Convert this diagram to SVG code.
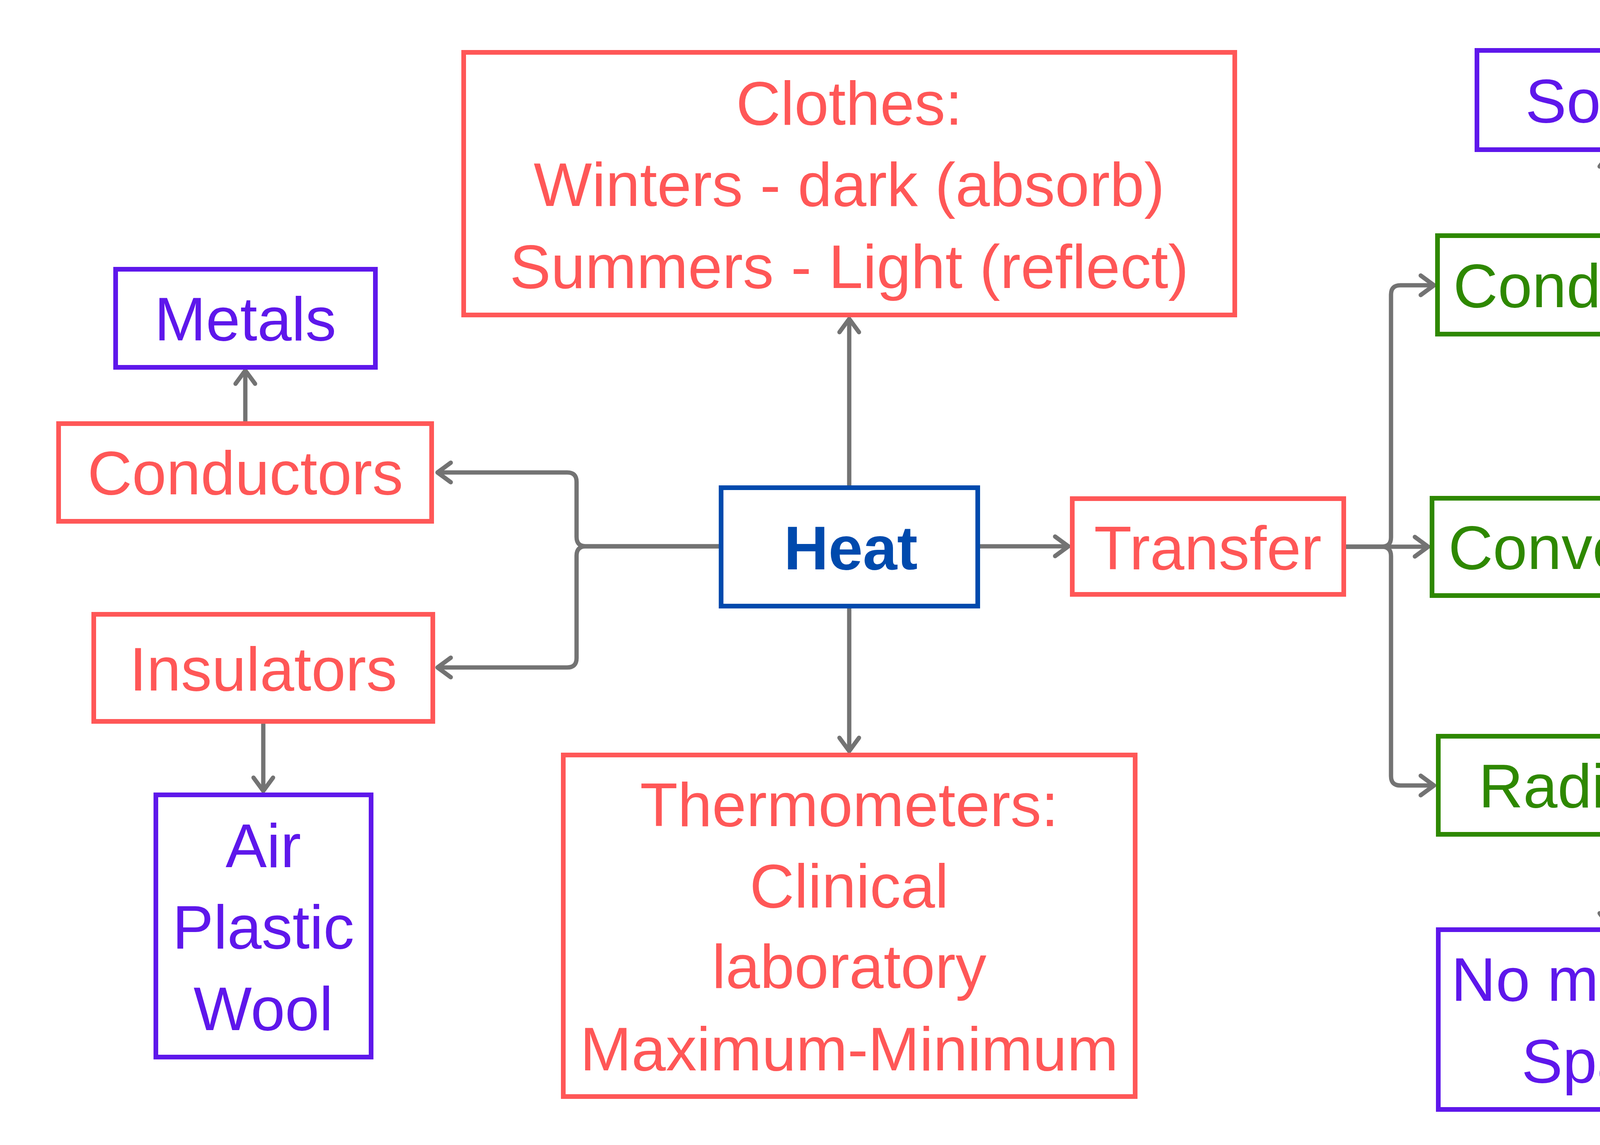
<svg xmlns="http://www.w3.org/2000/svg" width="6009" height="2930" viewBox="0 0 6009 2930">
<style>
.box{fill:#ffffff;stroke-width:12}
.r{stroke:#FF5757}.p{stroke:#5E17EB}.g{stroke:#2E8800}.b{stroke:#004AAD}
.t{font-family:"Liberation Sans",Arial,sans-serif;font-size:158px;text-anchor:middle}
.tr{fill:#FF5757}.tp{fill:#5E17EB}.tg{fill:#2E8800}.tb{fill:#004AAD;font-weight:bold;font-size:158px}
.c{fill:none;stroke:#737373;stroke-width:11;stroke-linecap:butt;stroke-linejoin:round}
</style>
<defs>
<marker id="ah" viewBox="-45 -35 60 70" markerWidth="60" markerHeight="70" refX="0" refY="0" orient="auto" markerUnits="userSpaceOnUse">
<path d="M-34,-25 L0,0 L-34,25" fill="none" stroke="#737373" stroke-width="11" stroke-linecap="round" stroke-linejoin="round"/>
</marker>
</defs>
<rect x="0" y="0" width="6009" height="2930" fill="#ffffff"/>
<g id="connectors">
<path class="c" marker-end="url(#ah)" d="M1840 1398 H1500 Q1476 1398 1476 1374 V1233 Q1476 1209 1452 1209 H1120"/>
<path class="c" marker-end="url(#ah)" d="M1840 1398 H1500 Q1476 1398 1476 1422 V1684 Q1476 1708 1452 1708 H1120"/>
<path class="c" marker-end="url(#ah)" d="M2174 1242 V816"/>
<path class="c" marker-end="url(#ah)" d="M2174 1557 V1922"/>
<path class="c" marker-end="url(#ah)" d="M2509 1398 H2735"/>
<path class="c" marker-end="url(#ah)" d="M628 1078 V948"/>
<path class="c" marker-end="url(#ah)" d="M674 1852 V2024"/>
<path class="c" marker-end="url(#ah)" d="M3446 1399 H3537 Q3561 1399 3561 1375 V754 Q3561 730 3585 730 H3671"/>
<path class="c" marker-end="url(#ah)" d="M3446 1399 H3656"/>
<path class="c" marker-end="url(#ah)" d="M3446 1399 H3537 Q3561 1399 3561 1423 V1986 Q3561 2010 3585 2010 H3671"/>
<path class="c" marker-end="url(#ah)" d="M4120 597 V392"/>
<path class="c" marker-end="url(#ah)" d="M4120 2141 V2371"/>
<path class="c" marker-end="url(#ah)" d="M4546 1399 H4774 Q4798 1399 4798 1375 V1098 Q4798 1074 4822 1074 H5047"/>
<path class="c" marker-end="url(#ah)" d="M4546 1399 H4774 Q4798 1399 4798 1423 V1645 Q4798 1669 4822 1669 H5047"/>
<path class="c" marker-end="url(#ah)" d="M5369 1803 V1899 Q5369 1923 5345 1923 H5079 Q5055 1923 5055 1947 V2049"/>
<path class="c" marker-end="url(#ah)" d="M5369 1803 V1899 Q5369 1923 5393 1923 H5668 Q5692 1923 5692 1947 V2049"/>
</g>
<g id="clothes">
<rect class="box r" x="1187" y="134" width="1974" height="672"/>
<text class="t tr" x="2174" y="319">Clothes:</text>
<text class="t tr" x="2174" y="527">Winters - dark (absorb)</text>
<text class="t tr" x="2174" y="737">Summers - Light (reflect)</text>
</g>
<g id="metals">
<rect class="box p" x="296" y="689" width="665" height="251"/>
<text class="t tp" x="628" y="871">Metals</text>
</g>
<g id="conductors">
<rect class="box r" x="150" y="1084" width="955" height="250"/>
<text class="t tr" x="628" y="1265">Conductors</text>
</g>
<g id="insulators">
<rect class="box r" x="240" y="1572" width="868" height="274"/>
<text class="t tr" x="674" y="1767">Insulators</text>
</g>
<g id="air">
<rect class="box p" x="399" y="2034" width="551" height="671"/>
<text class="t tp" x="674" y="2219">Air</text>
<text class="t tp" x="674" y="2427">Plastic</text>
<text class="t tp" x="674" y="2636">Wool</text>
</g>
<g id="heat">
<rect class="box b" x="1846" y="1248" width="657" height="303"/>
<text class="t tb" x="2178" y="1457">Heat</text>
</g>
<g id="transfer">
<rect class="box r" x="2745" y="1276" width="695" height="245"/>
<text class="t tr" x="3092" y="1457">Transfer</text>
</g>
<g id="thermometers">
<rect class="box r" x="1442" y="1932" width="1464" height="874"/>
<text class="t tr" x="2174" y="2114">Thermometers:</text>
<text class="t tr" x="2174" y="2322">Clinical</text>
<text class="t tr" x="2174" y="2528">laboratory</text>
<text class="t tr" x="2174" y="2739">Maximum-Minimum</text>
</g>
<g id="solids">
<rect class="box p" x="3781" y="129" width="679" height="254"/>
<text class="t tp" x="4120" y="313">Solids</text>
</g>
<g id="conduction">
<rect class="box g" x="3680" y="603" width="880" height="252"/>
<text class="t tg" x="4120" y="786">Conduction</text>
</g>
<g id="convection">
<rect class="box g" x="3666" y="1275" width="874" height="249"/>
<text class="t tg" x="4103" y="1456">Convection</text>
</g>
<g id="radiation">
<rect class="box g" x="3682" y="1884" width="874" height="251"/>
<text class="t tg" x="4119" y="2066">Radiation</text>
</g>
<g id="nomedium">
<rect class="box p" x="3682" y="2379" width="874" height="460"/>
<text class="t tp" x="4119" y="2561">No medium</text>
<text class="t tp" x="4119" y="2770">Space</text>
</g>
<g id="liquid">
<rect class="box p" x="5059" y="844" width="723" height="460"/>
<text class="t tp" x="5421" y="1027">Liquid &amp;</text>
<text class="t tp" x="5421" y="1235">Gases</text>
</g>
<g id="breeze">
<rect class="box p" x="5055" y="1546" width="628" height="251"/>
<text class="t tp" x="5369" y="1727">Breeze</text>
</g>
<g id="sea">
<rect class="box p" x="4799" y="2059" width="516" height="459"/>
<text class="t tp" x="5057" y="2239">Sea -</text>
<text class="t tp" x="5057" y="2448">day</text>
</g>
<g id="land">
<rect class="box p" x="5455" y="2059" width="471" height="459"/>
<text class="t tp" x="5692" y="2239">Land -</text>
<text class="t tp" x="5692" y="2448">Night</text>
</g>
</svg>
